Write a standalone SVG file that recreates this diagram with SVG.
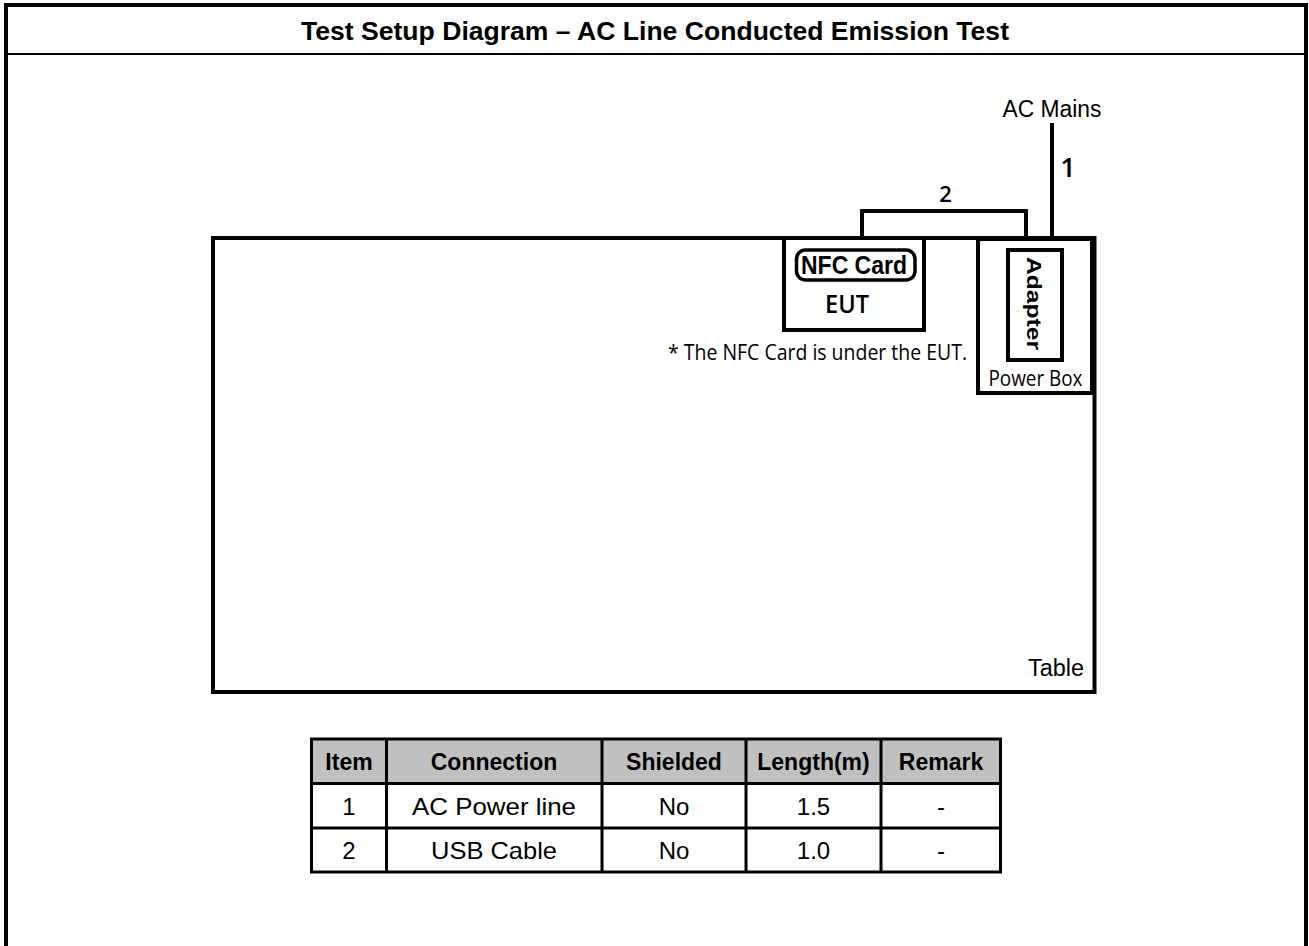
<svg xmlns="http://www.w3.org/2000/svg" width="1309" height="946" viewBox="0 0 1309 946">
<style>
.ln{fill:none;stroke:#000;stroke-width:4}
.box{fill:#fff;stroke:#000;stroke-width:4}
.ar{font-family:"Liberation Sans",Arial,sans-serif;fill:#000}
.os{font-family:"Open Sans","Liberation Sans",sans-serif;fill:#000}
.b{font-weight:bold}
.th{font-family:"Liberation Sans",Arial,sans-serif;font-weight:bold;font-size:23px;text-anchor:middle}
.td{font-family:"Liberation Sans",Arial,sans-serif;font-size:24px;text-anchor:middle}
.grid{fill:none;stroke:#000;stroke-width:3}
</style>
<rect width="1309" height="946" fill="#fff"/>
<g id="frame">
<path d="M6,946 V5 H1306 V946" fill="none" stroke="#000" stroke-width="4"/>
<line x1="6" y1="54" x2="1306" y2="54" stroke="#000" stroke-width="2"/>
<text class="ar b" x="655" y="40" font-size="26" text-anchor="middle" textLength="708" lengthAdjust="spacingAndGlyphs">Test Setup Diagram – AC Line Conducted Emission Test</text>
</g>
<g id="table">
<rect class="box" x="213" y="238" width="881.5" height="454"/>
<text class="ar" x="1084" y="676" font-size="23" text-anchor="end" textLength="56" lengthAdjust="spacingAndGlyphs">Table</text>
</g>
<g id="connectors">
<polyline class="ln" points="862,238 862,211 1026,211 1026,250"/>
<line class="ln" x1="1052" y1="123" x2="1052" y2="238"/>
<text class="os" x="945.5" y="202" font-size="22" font-weight="600" text-anchor="middle">2</text>
<text class="os" x="1068" y="177" font-size="27" font-weight="600" text-anchor="middle">1</text>
</g>
<g id="eut">
<rect class="box" x="784" y="238" width="140" height="92"/>
<text class="os" x="847" y="313" font-size="26" font-weight="600" text-anchor="middle" textLength="44" lengthAdjust="spacingAndGlyphs">EUT</text>
</g>
<g id="nfc-card">
<rect x="796.5" y="250" width="118.5" height="30" rx="9" fill="#fff" stroke="#000" stroke-width="3.5"/>
<text class="ar b" x="854" y="274" font-size="26" text-anchor="middle" textLength="106" lengthAdjust="spacingAndGlyphs">NFC Card</text>
</g>
<text class="os" x="668" y="360" font-size="21" textLength="299" lengthAdjust="spacingAndGlyphs">* The NFC Card is under the EUT.</text>
<g id="power-box">
<rect class="box" x="978" y="239" width="114" height="154"/>
<text class="os" x="1035.5" y="386" font-size="22" text-anchor="middle" textLength="94" lengthAdjust="spacingAndGlyphs">Power Box</text>
</g>
<g id="adapter">
<rect class="box" x="1008" y="250" width="54" height="110"/>
<text class="ar b" transform="translate(1027,303.5) rotate(90)" font-size="20" text-anchor="middle" textLength="93" lengthAdjust="spacingAndGlyphs">Adapter</text>
</g>
<g id="ac-mains">
<text class="ar" x="1052" y="117" font-size="23" text-anchor="middle" textLength="99" lengthAdjust="spacingAndGlyphs">AC Mains</text>
</g>
<g id="cable-table">
<rect x="311.5" y="739" width="689" height="44.5" fill="#c0c0c0"/>
<rect class="grid" x="311.5" y="739" width="689" height="133"/>
<line class="grid" x1="311.5" y1="783.5" x2="1000.5" y2="783.5"/>
<line class="grid" x1="311.5" y1="828" x2="1000.5" y2="828"/>
<line class="grid" x1="386.5" y1="739" x2="386.5" y2="872"/>
<line class="grid" x1="602" y1="739" x2="602" y2="872"/>
<line class="grid" x1="746" y1="739" x2="746" y2="872"/>
<line class="grid" x1="881" y1="739" x2="881" y2="872"/>
<text class="th" x="349" y="770">Item</text>
<text class="th" x="494" y="770">Connection</text>
<text class="th" x="674" y="770">Shielded</text>
<text class="th" x="813.5" y="770">Length(m)</text>
<text class="th" x="941" y="770">Remark</text>
<text class="td" x="349" y="815">1</text>
<text class="td" x="494" y="815" textLength="164" lengthAdjust="spacingAndGlyphs">AC Power line</text>
<text class="td" x="674" y="815">No</text>
<text class="td" x="813.5" y="815">1.5</text>
<text class="td" x="941" y="815">-</text>
<text class="td" x="349" y="859">2</text>
<text class="td" x="494" y="859" textLength="126" lengthAdjust="spacingAndGlyphs">USB Cable</text>
<text class="td" x="674" y="859">No</text>
<text class="td" x="813.5" y="859">1.0</text>
<text class="td" x="941" y="859">-</text>
</g>
</svg>
